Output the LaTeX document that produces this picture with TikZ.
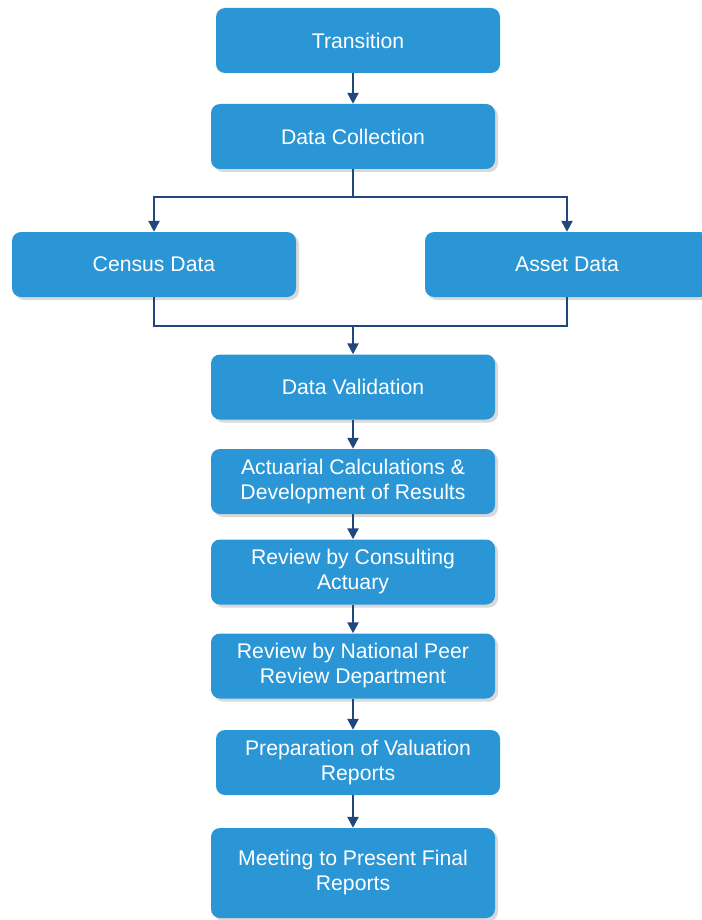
\documentclass[tikz,border=0pt]{standalone}
\usepackage{fontspec}
\setmainfont{Liberation Sans}
\usetikzlibrary{arrows.meta,shadows}

\definecolor{boxblue}{HTML}{2A96D6}
\definecolor{linkblue}{HTML}{22477C}

\begin{document}
\begin{tikzpicture}[x=1pt,y=-1pt]
  \useasboundingbox (0,0) rectangle (701,920);

  \tikzset{stage/.style={rectangle, rounded corners=9pt, fill=boxblue, text=white,
      minimum width=284pt, minimum height=65pt, align=center,
      font=\fontsize{21.2}{25}\selectfont},
    shadowed/.style={drop shadow={opacity=0.3, shadow xshift=3pt, shadow yshift=-3pt}}}

  \begin{scope}[every node/.style={stage}]
      \node (trans) at (358,40.5) {Transition};
      \node[shadowed] (coll) at (353,136.5) {Data Collection};

      \node[shadowed] (census) at (154,264.5) {Census Data};
      \node[shadowed] (asset) at (567,264.5) {Asset Data};

      \node[shadowed] (valid) at (353,387) {Data Validation};
      \node[shadowed] (calc) at (353,481.5) {Actuarial Calculations \&\\Development of Results};
      \node[shadowed] (consult) at (353,572) {Review by Consulting\\Actuary};
      \node[shadowed] (peer) at (353,666) {Review by National Peer\\Review Department};
      \node (prep) at (358,762.5) {Preparation of Valuation\\Reports};
      \node[shadowed, minimum height=90pt] (meet) at (353,873) {Meeting to Present Final\\Reports};
  \end{scope}

  \coordinate (split) at (353,197);
  \coordinate (merge) at (353,326);

  \tikzset{link/.style={linkblue, line width=2.4pt},
    flow/.style={link, -{Triangle[length=11pt,width=11pt]}}}

  \draw[flow] (trans.south -| coll.north) -- (coll.north);

  \draw[link] (coll.south) -- (split);
  \draw[flow] (split) -| (census.north);
  \draw[flow] (split) -| (asset.north);

  \draw[link] (census.south) |- (merge);
  \draw[link] (asset.south) |- (merge);
  \draw[flow] (merge) -- (valid.north);

  \draw[flow] (valid) -- (calc);
  \draw[flow] (calc) -- (consult);
  \draw[flow] (consult) -- (peer);
  \draw[flow] (peer.south) -- (peer.south |- prep.north);
  \draw[flow] (prep.south -| meet.north) -- (meet.north);

\end{tikzpicture}
\end{document}
